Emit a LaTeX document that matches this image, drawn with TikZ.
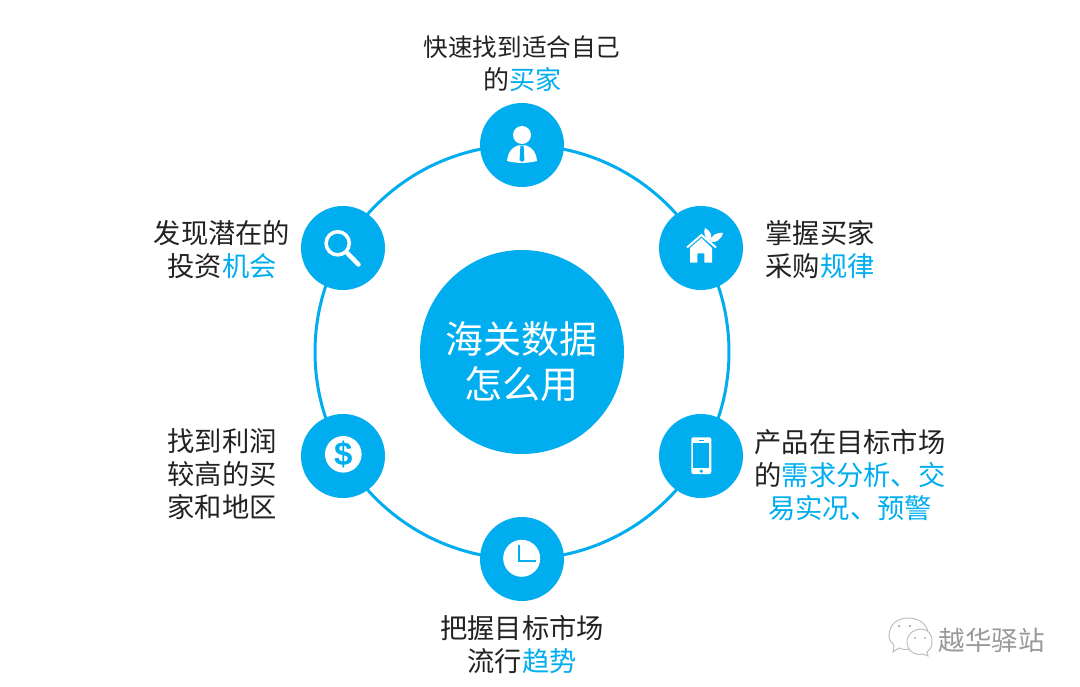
\documentclass[tikz,border=0pt]{standalone}
\usepackage{fontspec}
\setmainfont{Noto Sans CJK SC}
\newfontfamily\dollarfont{Liberation Sans}
\definecolor{brand}{HTML}{00AEEF}
\definecolor{ink}{HTML}{222222}
\newcommand{\hl}[1]{\textcolor{brand}{#1}}
\tikzset{
  hub/.style={circle,fill=brand,inner sep=0pt,minimum size=204pt},
  hubtext/.style={inner sep=0pt,text=white,align=center,font=\fontsize{38}{45}\selectfont},
  badge/.style={circle,fill=brand,inner sep=0pt,minimum size=84pt},
  caption/.style={inner sep=0pt,align=center,text=ink,font=\fontsize{27.3}{33}\selectfont},
  ringline/.style={draw=brand,line width=3pt},
  glyph/.style={fill=white,draw=none},
  lensring/.style={draw=white,line width=3.5pt},
  wm/.style={draw=black!25,line width=1pt,fill=white}
}
\begin{document}
\begin{tikzpicture}[x=1pt,y=-1pt]
\useasboundingbox (0,0) rectangle (1080,687);
\fill[white] (0,0) rectangle (1080,687);
\coordinate (ringc) at (522,352);
\draw[ringline] (ringc) circle (207pt);
\node[hub] (hubn) at (522,352) {};
\node[hubtext] (hubt) at (521,362) {海关数据\\怎么用};
\node[badge] (b1) at (522,145) {};
\node[badge] (b2) at (701,248) {};
\node[badge] (b3) at (701,456) {};
\node[badge] (b4) at (522,559) {};
\node[badge] (b5) at (343,456) {};
\node[badge] (b6) at (343,248) {};
% person
\fill[glyph] (522,135) circle (9pt);
\fill[glyph] (507,161) .. controls (508,152) and (511,148) .. (518,145.5) -- (526,145.5)
  .. controls (533,148) and (536,152) .. (537,161) .. controls (527,163.5) and (517,163.5) .. (507,161) -- cycle;
\fill[brand] (520.4,146) -- (523.6,146) -- (524.4,160) -- (522,162) -- (519.6,160) -- cycle;
% house
\fill[glyph] (690,248) -- (701.5,238) -- (712,248) -- (712,262.7) -- (704.3,262.7) -- (704.3,253.5) -- (697.3,253.5) -- (697.3,262.7) -- (690,262.7) -- cycle;
\draw[white,line width=2pt] (687,247.5) -- (701.5,235) -- (716,247.5);
\fill[glyph] (705,228) .. controls (711,231) and (713,236) .. (710,241) .. controls (705,238) and (703,233) .. (705,228) -- cycle;
\fill[glyph] (723,233) .. controls (717,232) and (711,235) .. (710,242) .. controls (716,243) and (721,240) .. (723,233) -- cycle;
% phone
\fill[glyph,rounded corners=2pt] (691.3,437.3) rectangle (711.3,474);
\fill[brand] (693.3,442.7) rectangle (709.3,468.3);
\fill[brand] (701.3,471.2) circle (1.8pt);
\fill[brand] (698.5,439.5) rectangle (704,440.6);
% clock
\fill[glyph] (521.7,558.3) circle (18.5pt);
\draw[brand,line width=2pt] (519.3,545) -- (519.3,561) -- (535.7,561);
% dollar
\fill[glyph] (343.3,454.3) circle (18.3pt);
\node[inner sep=0pt,text=brand,font=\dollarfont\bfseries\fontsize{33}{33}\selectfont] (dollar) at (343.3,454.3) {\$};
% search
\draw[lensring] (337.7,243.3) circle (11.6pt);
\draw[white,line width=4.5pt,line cap=round] (347,252.8) -- (358.5,264.5);
% captions
\node[caption] (t1a) at (522,47) {\fontsize{24.6}{30}\selectfont 快速找到适合自己};
\node[caption] (t1b) at (522,80) {\fontsize{26}{30}\selectfont 的\hl{买家}};
\node[caption] (t2) at (820,249.5) {掌握买家\\采购\hl{规律}};
\node[caption] (t3) at (850,475) {产品在目标市场\\的\hl{需求分析、交}\\\hl{易实况、预警}};
\node[caption] (t4) at (522,644.5) {把握目标市场\\流行\hl{趋势}};
\node[caption] (t5) at (222,474) {找到利润\\较高的买\\家和地区};
\node[caption] (t6) at (222,249.5) {发现潜在的\\投资\hl{机会}};
% watermark
\draw[wm] (889,636) .. controls (889,623) and (899,618) .. (908,618) .. controls (918,618) and (926,623) .. (928,632)
  .. controls (934,640) and (928,640) .. (915,648) .. controls (908,650) and (903,650) .. (899,648) -- (893,652) -- (894,645) .. controls (891,642) and (889,640) .. (889,636) -- cycle;
\draw[wm] (907,642) .. controls (907,634) and (914,629) .. (921,629) .. controls (928,629) and (932,634) .. (932,642)
  .. controls (932,647) and (930,650) .. (927,652) -- (928,656) -- (923,654) .. controls (914,656) and (907,650) .. (907,642) -- cycle;
\fill[black!30] (899,626) circle (1.3pt) (910,626) circle (1.3pt) (915,638) circle (1.2pt) (925,638) circle (1.2pt);
\node[inner sep=0pt,text=black!40,font=\fontsize{26.5}{30}\selectfont] (wmark) at (991.5,640) {越华驿站};
\end{tikzpicture}
\end{document}
